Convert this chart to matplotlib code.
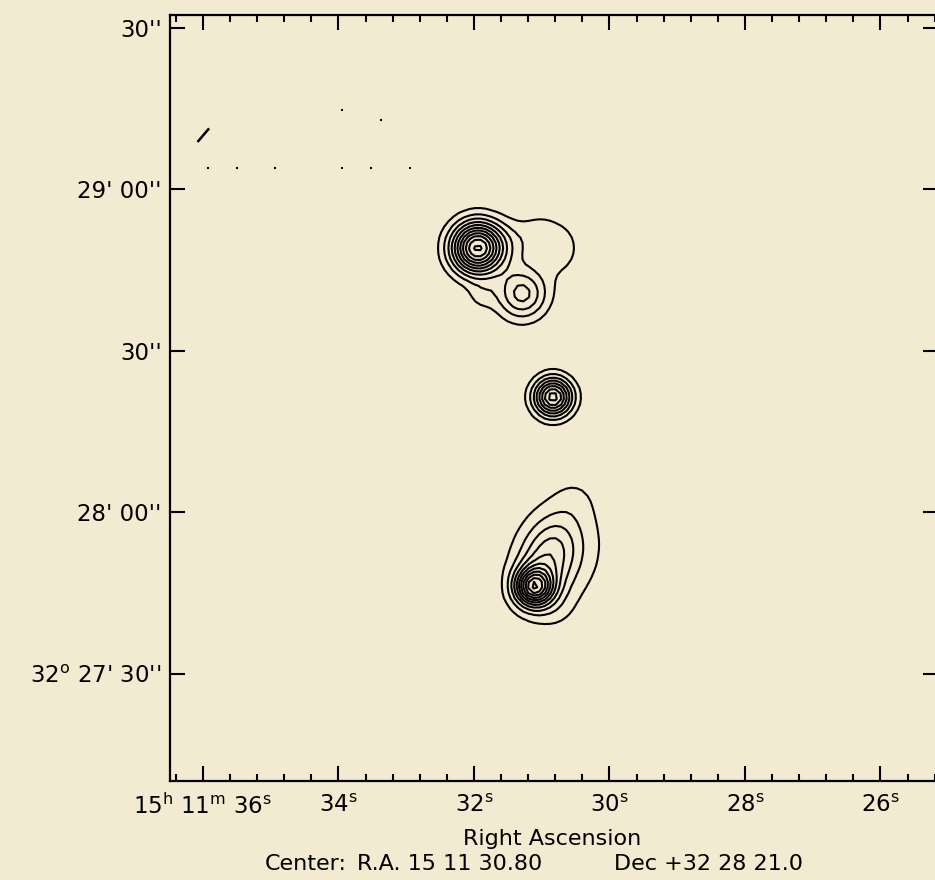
import numpy as np
import matplotlib
matplotlib.use("Agg")
import matplotlib.pyplot as plt
from matplotlib.ticker import FixedLocator, MultipleLocator

plt.rcParams['font.family'] = ['DejaVu Sans']
plt.rcParams['mathtext.default'] = 'regular'

BG = '#F3EBD1'
ARCSEC_PER_SEC = 12.65   # arcsec of sky per second of RA at Dec +32.5

# Source model components read from the map
# (RA in seconds of 15h11m, Dec in arcsec from +32 28 00, sizes in arcsec)
comp_ra    = [31.948, 31.292, 31.336, 30.731, 31.897, 31.026, 30.834, 31.114, 30.908, 30.657, 30.509, 30.804]
comp_dec   = [49.04, 40.50, 49.97, 49.04, 40.13, 52.76, 21.36, -13.93, -8.55, -7.99, 2.79, -18.2]
comp_peak  = [11.2, 4.37, 1.3, 1.45, 1.0, 0.6, 8.5, 8.4, 3.8, 1.15, 0.5, 0.5]
comp_smaj  = [3.344, 3.325, 3.344, 3.9, 1.858, 2.23, 2.49, 2.415, 5.57, 8.9, 2.97, 2.79]
comp_smin  = [3.344, 3.325, 3.344, 2.97, 1.858, 2.23, 2.49, 2.415, 3.72, 7.06, 2.97, 2.79]
comp_tilt  = [0, 0, 0, 0, 0, 0, 0, 0, 20, 20, 0, 0]

contour_levels = [1, 2, 3, 4, 5, 6, 7, 8, 9, 10, 11, 12]

# isolated edge pixels (noise blips) near the map corner
blip_ra  = [35.931, 35.503, 34.937, 33.944, 33.520, 32.949, 33.944, 33.368]
blip_dec = [63.85, 63.85, 63.85, 63.85, 63.85, 63.85, 74.62, 72.77]
streak_ra  = [36.069, 35.922]
streak_dec = [68.92, 71.09]

xtick_pos = [36, 34, 32, 30, 28, 26]
xtick_lab = ['15$^{h}$ 11$^{m}$ 36$^{s}$', '34$^{s}$', '32$^{s}$', '30$^{s}$', '28$^{s}$', '26$^{s}$']
ytick_pos = [-30, 0, 30, 60, 90]
ytick_lab = ["32$^{o}$ 27' 30''", "28' 00''", "30''", "29' 00''", "30''"]
x_title = 'Right Ascension'
center_parts = ['Center:', 'R.A. 15 11 30.80', 'Dec +32 28 21.0']

ra = np.arange(24.0, 37.5, 1.0 / ARCSEC_PER_SEC)
dec = np.arange(-55.0, 96.0, 1.0)
RA, DEC = np.meshgrid(ra, dec)
field = np.zeros_like(RA)
for r0, d0, p, smaj, smin, tilt in zip(comp_ra, comp_dec, comp_peak, comp_smaj, comp_smin, comp_tilt):
    X = -(RA - r0) * ARCSEC_PER_SEC
    Y = DEC - d0
    t = np.radians(tilt)
    u = X * np.sin(t) + Y * np.cos(t)
    v = X * np.cos(t) - Y * np.sin(t)
    field += p * np.exp(-0.5 * ((u / smaj) ** 2 + (v / smin) ** 2))

W, H = 935, 880
fig = plt.figure(figsize=(W / 100, H / 100), dpi=100, facecolor=BG)
ax = fig.add_axes([170 / W, (H - 781) / H, (938 - 170) / W, (781 - 15) / H])
ax.set_facecolor(BG)

ax.contour(RA, DEC, field, levels=contour_levels, colors='black', linewidths=1.5)
ax.plot(blip_ra, blip_dec, 's', color='black', markersize=1.6, markeredgewidth=0)
ax.plot(streak_ra, streak_dec, '-', color='black', linewidth=1.8)

ax.set_xlim(36.487, 36 - (938 - 203) / 67.75)
ax.set_ylim(-49.97, 92.33)

ax.xaxis.set_major_locator(FixedLocator(xtick_pos))
ax.set_xticklabels(xtick_lab)
ax.xaxis.set_minor_locator(MultipleLocator(0.4))
ax.yaxis.set_major_locator(FixedLocator(ytick_pos))
ax.set_yticklabels(ytick_lab)

ax.tick_params(which='both', direction='in', top=True, right=True, color='black', width=1.5)
ax.tick_params(which='major', length=11, labelsize=16.5)
ax.tick_params(axis='y', which='major', pad=6)
ax.tick_params(axis='x', which='major', pad=9)
ax.tick_params(which='minor', length=5)
for s in ax.spines.values():
    s.set_linewidth(1.6)

fig.text(552 / W, 1 - 839 / H, x_title, ha='center', va='center', fontsize=16)
for part, x0 in zip(center_parts, [265, 357, 614]):
    fig.text(x0 / W, 1 - 864 / H, part, ha='left', va='center', fontsize=16)

fig.savefig('out.png', dpi=100, facecolor=BG)
